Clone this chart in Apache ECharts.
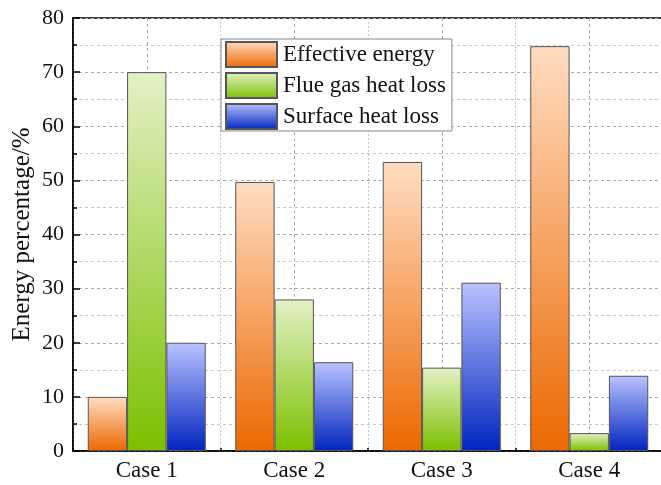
<!DOCTYPE html>
<html>
<head>
<meta charset="utf-8">
<script src="https://cdn.jsdelivr.net/npm/echarts@6/dist/echarts.min.js"></script>
<style>html,body{margin:0;padding:0;background:#fff}#c{width:661px;height:485px}</style>
</head>
<body>
<div id="c"></div>
<script>
const categories = ['Case 1', 'Case 2', 'Case 3', 'Case 4'];
const effectiveEnergy = [10, 49.7, 53.4, 74.8];
const flueGasHeatLoss = [70, 28.0, 15.4, 3.3];
const surfaceHeatLoss = [20, 16.4, 31.1, 13.9];
const seriesNames = ['Effective energy', 'Flue gas heat loss', 'Surface heat loss'];

const font = 'Liberation Serif, Times New Roman, serif';
function grad(top, bottom) {
  return new echarts.graphic.LinearGradient(0, 0, 0, 1, [
    { offset: 0, color: top }, { offset: 1, color: bottom }
  ]);
}
const gradients = [
  grad('#FFDDC2', '#EC6800'),
  grad('#E3F1C6', '#7CC000'),
  grad('#BAC2FF', '#0024BE')
];
const dataSets = [effectiveEnergy, flueGasHeatLoss, surfaceHeatLoss];

const chart = echarts.init(document.getElementById('c'));
chart.setOption({
  animation: false,
  backgroundColor: '#fff',
  grid: { left: 73, top: 18, width: 590, height: 433, outerBoundsMode: 'none', containLabel: false, show: true, borderColor: '#000', borderWidth: 1.5, backgroundColor: 'transparent' },
  legend: {
    orient: 'vertical', left: 221, top: 39,
    itemWidth: 51, itemHeight: 25, itemGap: 4,
    padding: [2, 6, 1, 4],
    backgroundColor: '#fff', borderColor: '#888', borderWidth: 1,
    icon: 'rect',
    textStyle: { fontFamily: font, fontSize: 23, color: '#111', padding: [0, 0, 0, 1] },
    data: seriesNames
  },
  xAxis: [
    {
      type: 'category', data: categories, position: 'bottom',
      axisLine: { show: true, lineStyle: { color: '#000', width: 1.5 } },
      axisTick: { show: false },
      splitLine: { show: false },
      axisLabel: { fontFamily: font, fontSize: 23, color: '#111', margin: 8 }
    },
    {
      type: 'value', min: 0, max: 4, interval: 1, position: 'bottom',
      axisLine: { show: false },
      axisLabel: { show: false },
      axisTick: { show: true, inside: true, length: 3, lineStyle: { color: '#000', width: 1.5 } },
      minorTick: { show: true, splitNumber: 2, length: 7, lineStyle: { color: '#000', width: 1.5 } },
      splitLine: { show: true, lineStyle: { color: '#c8c8c8', type: [2, 2], width: 1 } },
      minorSplitLine: { show: true, lineStyle: { color: '#aaa', type: [3, 3], width: 1 } }
    }
  ],
  yAxis: {
    type: 'value', min: 0, max: 80, interval: 10,
    name: 'Energy percentage/%', nameLocation: 'middle', nameGap: 38, nameMoveOverlap: false,
    nameTextStyle: { fontFamily: font, fontSize: 25, color: '#111' },
    axisLine: { show: true, lineStyle: { color: '#000', width: 1.5 } },
    axisTick: { show: true, inside: true, length: 7, lineStyle: { color: '#000', width: 1.5 } },
    minorTick: { show: true, splitNumber: 2, length: 4, lineStyle: { color: '#000', width: 1.5 } },
    axisLabel: { fontFamily: font, fontSize: 22, color: '#111', margin: 9 },
    splitLine: { show: true, lineStyle: { color: '#aaa', type: [3, 3], width: 1 } },
    minorSplitLine: { show: true, lineStyle: { color: '#c8c8c8', type: [3, 3], width: 1 } }
  },
  series: seriesNames.map((n, i) => ({
    name: n, type: 'bar', xAxisIndex: 0, data: dataSets[i],
    barCategoryGap: '20%', barGap: '0%',
    itemStyle: { color: gradients[i], borderColor: '#555', borderWidth: 1 }
  }))
});
</script>
</body>
</html>
